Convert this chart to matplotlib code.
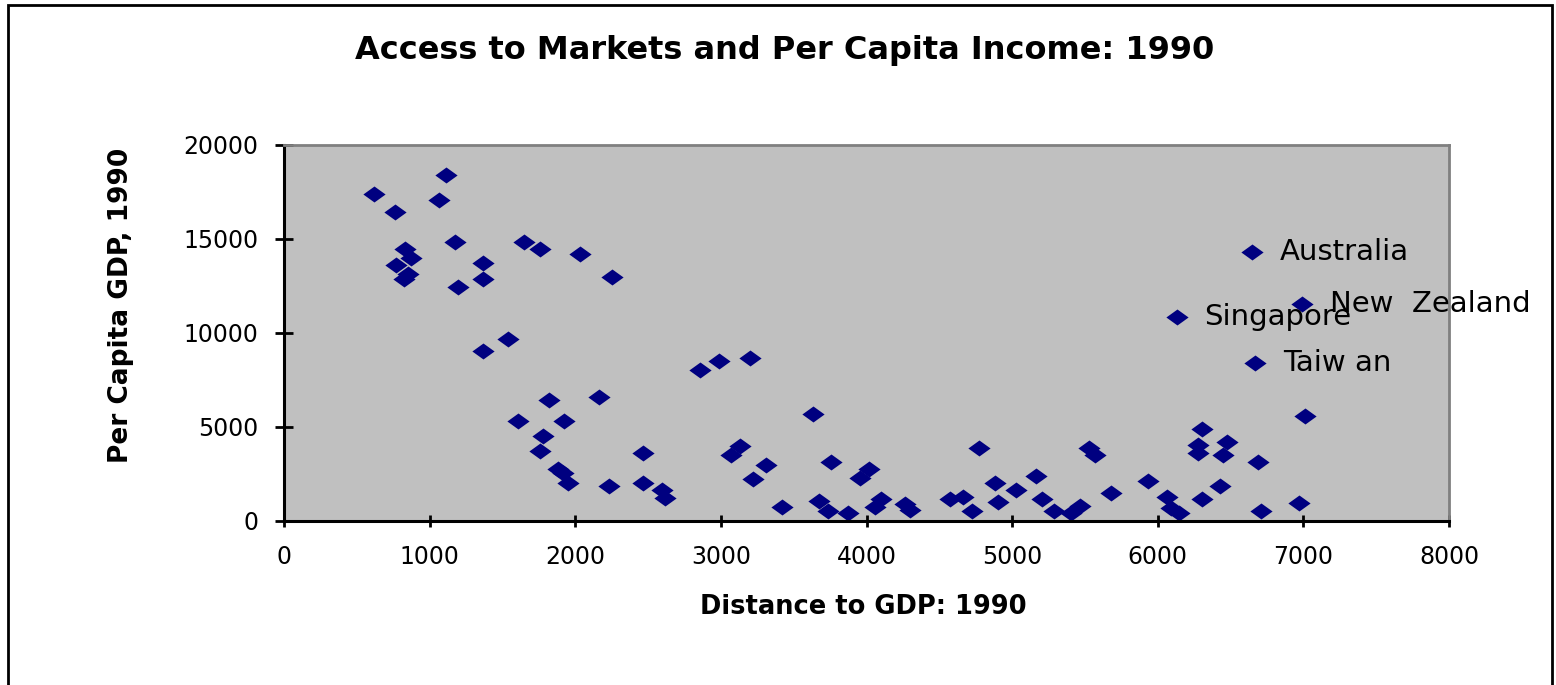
import matplotlib.pyplot as plt
from matplotlib.path import Path
from matplotlib.patches import Rectangle

# distance to GDP (x) and per capita GDP (y)
dist = [620, 1110, 1065, 765, 1174, 1648, 1756, 2035, 2250, 831, 872, 767, 849, 826,
        1367, 1367, 1197, 1538, 1367, 1820, 2163, 1605, 1925, 1779, 1756, 2467, 1879,
        1914, 1950, 2230, 2467, 2593, 2616,
        2855, 2985, 3198, 3631, 3133, 3072, 3308, 3221, 3758, 4017, 3955, 3418, 3674,
        3733, 3871, 4100, 4058, 4266, 4299, 4773, 4576, 4665, 4727, 4880, 4903, 5029,
        5162, 5203, 5288, 5402, 5466,
        5530, 5569, 5677, 5935, 6066, 6089, 6148, 6301, 6278, 6278, 6473, 6450, 6690,
        6301, 6430, 6711, 6970, 7013]
gdp = [17400, 18400, 17050, 16420, 14820, 14840, 14450, 14200, 12980, 14480, 13970,
       13600, 13140, 12860, 13700, 12860, 12470, 9670, 9030, 6460, 6580, 5340, 5340,
       4520, 3710, 3620, 2770, 2540, 2000, 1880, 2000, 1650, 1210,
       8030, 8530, 8650, 5690, 4000, 3510, 3000, 2250, 3120, 2770, 2270, 760, 1060,
       530, 410, 1170, 760, 890, 590, 3870, 1150, 1290, 550, 2000, 1030, 1650,
       2390, 1150, 530, 410, 800,
       3870, 3510, 1500, 2140, 1290, 680, 410, 4880, 4040, 3630, 4220, 3510, 3120,
       1170, 1880, 550, 940, 5590]

names = ['Australia', 'New  Zealand', 'Singapore', 'Taiw an']
name_dist = [6645, 6993, 6130, 6668]
name_gdp = [14320, 11530, 10870, 8420]

diamond = Path([(-1, 0), (0, 0.72), (1, 0), (0, -0.72), (-1, 0)],
               [Path.MOVETO, Path.LINETO, Path.LINETO, Path.LINETO, Path.CLOSEPOLY])
navy = '#000080'

fig = plt.figure(figsize=(15.56, 6.85), dpi=100, facecolor='white')
ax = fig.add_axes([284/1556, 1-521/685, 1165/1556, 376/685])
ax.set_facecolor('#c0c0c0')

ax.plot(dist, gdp, linestyle='none', marker=diamond, markersize=16,
        color=navy, markeredgewidth=0, clip_on=False)
ax.plot(name_dist, name_gdp, linestyle='none', marker=diamond, markersize=16,
        color=navy, markeredgewidth=0, clip_on=False)
for n, xv, yv in zip(names, name_dist, name_gdp):
    ax.annotate(n, (xv, yv), xytext=(20, 0), textcoords='offset points',
                va='center', ha='left', fontsize=21, color='black',
                annotation_clip=False)

ax.set_xlim(0, 8000)
ax.set_ylim(0, 20000)
ax.set_xticks(range(0, 8001, 1000))
ax.set_yticks(range(0, 20001, 5000))
ax.tick_params(axis='y', direction='inout', length=13, width=2, labelsize=17, pad=12)
ax.tick_params(axis='x', direction='inout', length=9, width=2, labelsize=17, pad=13)

for s in ['left', 'bottom']:
    ax.spines[s].set_color('black')
    ax.spines[s].set_linewidth(2.2)
for s in ['top', 'right']:
    ax.spines[s].set_color('#808080')
    ax.spines[s].set_linewidth(2)

fig.text(785/1556, 1-50/685, 'Access to Markets and Per Capita Income: 1990',
         ha='center', va='center', fontsize=23, fontweight='bold')
fig.text(863/1556, 1-607/685, 'Distance to GDP: 1990',
         ha='center', va='center', fontsize=18.5, fontweight='bold')
fig.text(121/1556, 1-305/685, 'Per Capita GDP, 1990', rotation=90,
         ha='center', va='center', fontsize=19, fontweight='bold')

# outer chart border
fig.patches.append(Rectangle((8/1556, -0.02), 1544/1556, 1.02 - 5/685,
                             transform=fig.transFigure, fill=False,
                             edgecolor='black', linewidth=2))

fig.savefig('out.png', dpi=100, facecolor='white')
